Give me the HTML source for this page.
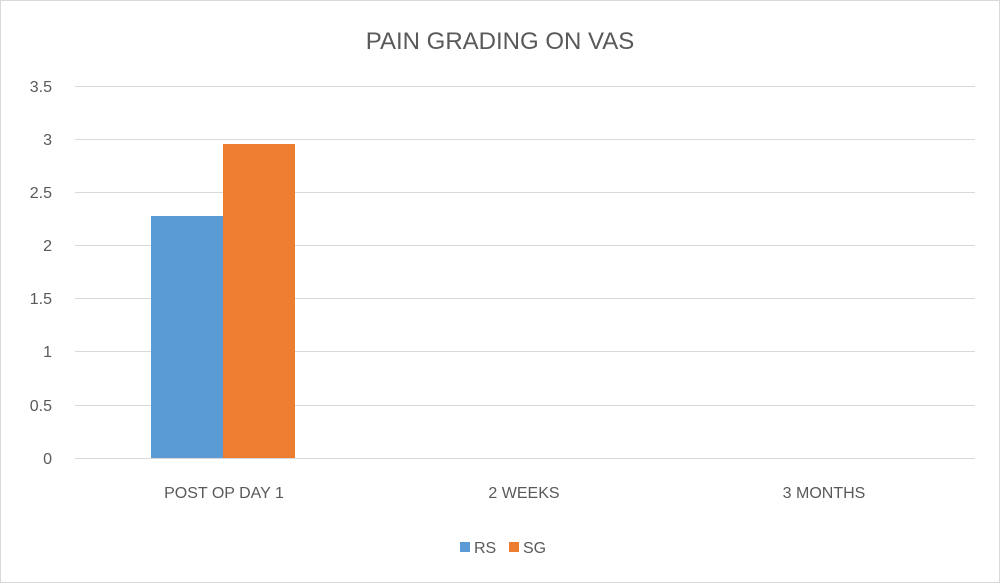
<!DOCTYPE html>
<html><head><style>
html,body{margin:0;padding:0;background:#fff;}
svg{display:block;font-family:"Liberation Sans",sans-serif;}
</style></head><body>
<svg width="1000" height="583" xmlns="http://www.w3.org/2000/svg">
<rect x="0.5" y="0.5" width="999" height="582" fill="#fff" stroke="#d9d9d9"/>
<text x="500" y="49" text-anchor="middle" font-size="24" fill="#595959">PAIN GRADING ON VAS</text>
<g stroke="#d9d9d9" stroke-width="1">
<line x1="75" x2="975" y1="86.5" y2="86.5"/>
<line x1="75" x2="975" y1="139.5" y2="139.5"/>
<line x1="75" x2="975" y1="192.5" y2="192.5"/>
<line x1="75" x2="975" y1="245.5" y2="245.5"/>
<line x1="75" x2="975" y1="298.5" y2="298.5"/>
<line x1="75" x2="975" y1="351.5" y2="351.5"/>
<line x1="75" x2="975" y1="405.5" y2="405.5"/>
<line x1="75" x2="975" y1="458.5" y2="458.5"/>
</g>
<g font-size="16" fill="#595959" text-anchor="end">
<text x="52" y="92">3.5</text>
<text x="52" y="145">3</text>
<text x="52" y="198">2.5</text>
<text x="52" y="251">2</text>
<text x="52" y="304">1.5</text>
<text x="52" y="357">1</text>
<text x="52" y="411">0.5</text>
<text x="52" y="464">0</text>
</g>
<rect x="151" y="216" width="72" height="242" fill="#5b9bd5"/>
<rect x="223" y="144" width="72" height="314" fill="#ed7d31"/>
<g font-size="16" fill="#595959" text-anchor="middle">
<text x="224" y="498">POST OP DAY 1</text>
<text x="524" y="498">2 WEEKS</text>
<text x="824" y="498">3 MONTHS</text>
</g>
<rect x="460" y="542" width="10" height="10" fill="#5b9bd5"/>
<text x="474" y="553" font-size="16" fill="#595959">RS</text>
<rect x="509" y="542" width="10" height="10" fill="#ed7d31"/>
<text x="523" y="553" font-size="16" fill="#595959">SG</text>
</svg>
</body></html>
